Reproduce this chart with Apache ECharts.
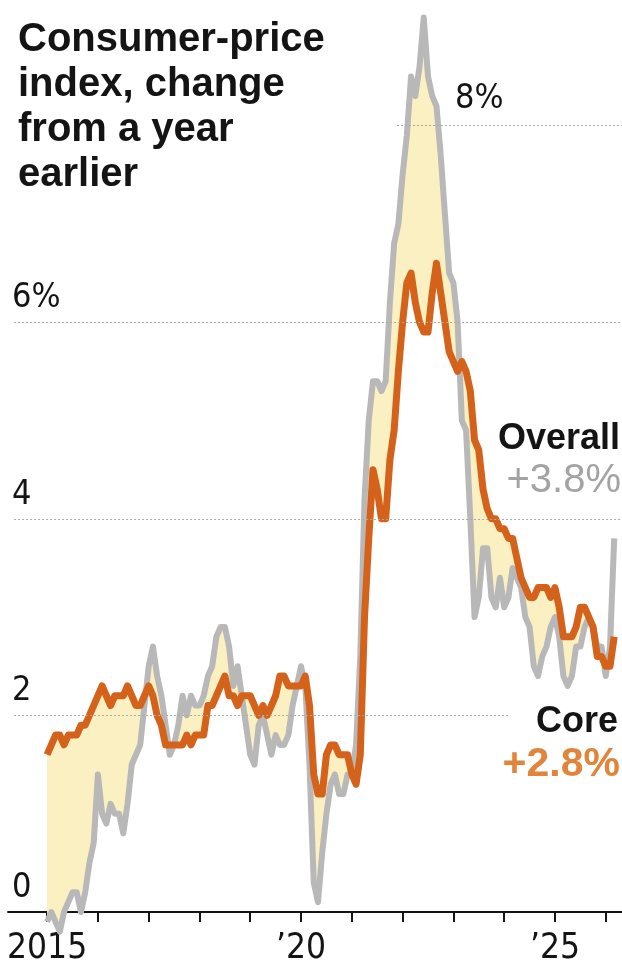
<!DOCTYPE html>
<html><head><meta charset="utf-8">
<script src="https://cdn.jsdelivr.net/npm/echarts@6/dist/echarts.min.js"></script>
<style>html,body{margin:0;padding:0;background:#fff}#c{width:622px;height:969px}</style>
</head><body><div id="c"></div>
<script>
// Monthly data, Jan 2015 .. Mar 2026 (year-over-year % change)
const startYear = 2015;
const core = [
  1.6,1.7,1.8,1.8,1.7,1.8,1.8,1.8,1.9,1.9,2.0,2.1,
  2.2,2.3,2.2,2.1,2.2,2.2,2.2,2.3,2.2,2.1,2.1,2.2,
  2.3,2.2,2.0,1.9,1.7,1.7,1.7,1.7,1.7,1.8,1.7,1.8,
  1.8,1.8,2.1,2.1,2.2,2.3,2.4,2.2,2.2,2.1,2.2,2.2,
  2.2,2.1,2.0,2.1,2.0,2.1,2.2,2.4,2.4,2.3,2.3,2.3,
  2.3,2.4,2.1,1.4,1.2,1.2,1.6,1.7,1.7,1.6,1.6,1.6,
  1.4,1.3,1.6,3.0,3.8,4.5,4.3,4.0,4.0,4.6,4.9,5.5,
  6.0,6.4,6.5,6.2,6.0,5.9,5.9,6.3,6.6,6.3,6.0,5.7,
  5.6,5.5,5.6,5.5,5.3,4.8,4.7,4.3,4.1,4.0,4.0,3.9,
  3.9,3.8,3.8,3.6,3.4,3.3,3.2,3.2,3.3,3.3,3.3,3.2,
  3.3,3.1,2.8,2.8,2.8,2.9,3.1,3.1,3.0,2.9,2.6,2.6,
  2.5,2.5,2.8
];
const overall = [
  -0.1,0.0,-0.1,-0.2,0.0,0.1,0.2,0.2,0.0,0.2,0.5,0.7,
  1.4,1.0,0.9,1.1,1.0,1.0,0.8,1.1,1.5,1.6,1.7,2.1,
  2.5,2.7,2.4,2.2,1.9,1.6,1.7,1.9,2.2,2.0,2.2,2.1,
  2.1,2.2,2.4,2.5,2.8,2.9,2.9,2.7,2.3,2.5,2.2,1.9,
  1.6,1.5,1.9,2.0,1.8,1.6,1.8,1.7,1.7,1.8,2.1,2.3,
  2.5,2.3,1.5,0.3,0.1,0.6,1.0,1.3,1.4,1.2,1.2,1.4,
  1.4,1.7,2.6,4.2,5.0,5.4,5.4,5.3,5.4,6.2,6.8,7.0,
  7.5,7.9,8.5,8.3,8.6,9.1,8.5,8.3,8.2,7.7,7.1,6.5,
  6.4,6.0,5.0,4.9,4.0,3.0,3.2,3.7,3.7,3.2,3.1,3.4,
  3.1,3.2,3.5,3.4,3.3,3.0,2.9,2.5,2.4,2.6,2.7,2.9,
  3.0,2.8,2.4,2.3,2.4,2.7,2.7,2.9,3.0,2.9,2.7,2.7,
  2.4,2.7,3.8
];
const xTickYears = [2015,2016,2017,2018,2019,2020,2021,2022,2023,2024,2025,2026];
const xLabelYears = [2015,2020,2025];
const yLabelValues = [0,2,4,6];
const gridRules = [
  {value: 8, from: 2021.89, to: 2026.32},
  {value: 6, from: 2014.35, to: 2026.32},
  {value: 4, from: 2014.35, to: 2026.32},
  {value: 2, from: 2014.35, to: 2024.1}
];
const titleText = 'Consumer-price\nindex, change\nfrom a year\nearlier';

const months = core.map((_, i) => startYear + i / 12);
const coreData = months.map((x, i) => [x, core[i]]);
const overallData = months.map((x, i) => [x, overall[i]]);

const FONT = "'Liberation Sans', Arial, sans-serif";
const NARROW = "'Liberation Sans Narrow', 'Arial Narrow', 'DejaVu Sans Condensed', 'Liberation Sans', sans-serif";
const INK = '#141414';

const chart = echarts.init(document.getElementById('c'), null, {renderer: 'canvas'});
chart.setOption({
  animation: false,
  backgroundColor: '#ffffff',
  title: {
    text: titleText, left: 13, top: 12,
    textStyle: {fontFamily: FONT, fontWeight: 'bold', fontSize: 40, lineHeight: 45, color: INK}
  },
  grid: {left: 8, right: 0, top: 0, bottom: 57},
  xAxis: {
    type: 'value', min: 2014.23, max: 2026.32,
    axisLine: {show: true, onZero: false, lineStyle: {color: INK, width: 2}},
    axisTick: {show: true, customValues: xTickYears, length: 10, lineStyle: {color: INK, width: 2}},
    axisLabel: {
      customValues: xLabelYears,
      formatter: v => (Math.round(v) === 2015 ? '2015' : '\u2019' + String(Math.round(v)).slice(2)),
      fontFamily: NARROW, fontSize: 35, color: INK, margin: 19
    },
    splitLine: {show: false}
  },
  yAxis: {
    type: 'value', min: 0, max: 9.278,
    axisLine: {show: false}, axisTick: {show: false}, splitLine: {show: false},
    axisLabel: {
      inside: true, customValues: yLabelValues,
      formatter: v => (v === 6 ? '6%' : String(v)),
      fontFamily: NARROW, fontSize: 34, color: INK, margin: 4,
      verticalAlign: 'bottom', lineHeight: 48, align: 'left'
    }
  },
  series: [
    {
      name: 'gap', type: 'custom', z: 1, silent: true, clip: false,
      data: [[months[0], core[0]]],
      encode: {x: 0, y: 1},
      renderItem: (params, api) => {
        const pts = [];
        for (let i = 0; i < months.length; i++) pts.push(api.coord([months[i], overall[i]]));
        for (let i = months.length - 1; i >= 0; i--) pts.push(api.coord([months[i], core[i]]));
        return {type: 'polygon', shape: {points: pts}, style: {fill: '#fbf0c2', stroke: null}};
      },
      markLine: {
        silent: true, symbol: 'none', animation: false,
        lineStyle: {color: '#a8a8a8', width: 1, type: [2, 2]},
        label: {show: false},
        data: gridRules.map(g => [{coord: [g.from, g.value]}, {coord: [g.to, g.value]}])
      }
    },
    {
      name: 'Overall', type: 'line', data: overallData, symbol: 'none', clip: false, z: 3,
      lineStyle: {color: '#b8b8b8', width: 6, join: 'round'}
    },
    {
      name: 'Core', type: 'line', data: coreData, symbol: 'none', clip: false, z: 4,
      lineStyle: {color: '#d5621a', width: 7, join: 'round'}
    }
  ],
  graphic: [
    {type: 'text', z: 10, style: {x: 455, y: 99, text: '8%', font: '34px ' + NARROW, fill: INK, align: 'left', verticalAlign: 'middle'}},
    {type: 'text', z: 10, style: {x: 620, y: 439, text: 'Overall', font: 'bold 36px ' + FONT, fill: INK, align: 'right', verticalAlign: 'middle'}},
    {type: 'text', z: 10, style: {x: 621, y: 481, text: '+3.8%', font: '40px ' + FONT, fill: '#a3a3a3', align: 'right', verticalAlign: 'middle'}},
    {type: 'text', z: 10, style: {x: 618, y: 722, text: 'Core', font: 'bold 36px ' + FONT, fill: INK, align: 'right', verticalAlign: 'middle'}},
    {type: 'text', z: 10, style: {x: 620, y: 765, text: '+2.8%', font: 'bold 41px ' + FONT, fill: '#e2853a', align: 'right', verticalAlign: 'middle'}}
  ]
});
</script>
</body></html>
